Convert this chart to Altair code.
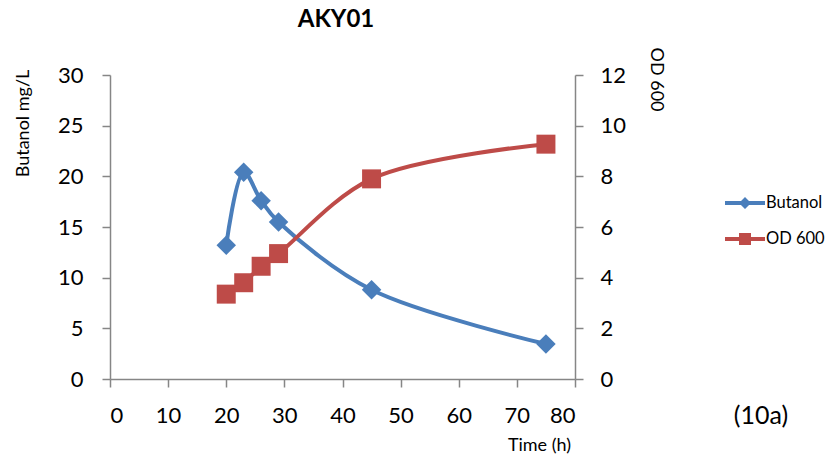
import altair as alt
import pandas as pd

# ---- data ----
time_h = [20, 23, 26, 29, 45, 75]
butanol = [13.2, 20.4, 17.6, 15.5, 8.8, 3.45]
od600 = [3.35, 3.8, 4.45, 4.95, 7.9, 9.27]
series = ["Butanol", "OD 600"]
colors = ["#4a7ebb", "#be4b48"]
x_ticks = [0, 10, 20, 30, 40, 50, 60, 70, 80]
left_ticks = [0, 5, 10, 15, 20, 25, 30]
right_ticks = [0, 2, 4, 6, 8, 10, 12]
chart_title = ["AKY01"]
panel_label = ["(10a)"]

df = pd.DataFrame({"time": time_h, "butanol": butanol, "od": od600})

FONT = "Lato"
AXIS_GRAY = "#868686"
INTERP = "catmull-rom"

x_enc = alt.X(
    "time:Q",
    scale=alt.Scale(domain=[0, 80], nice=False),
    axis=alt.Axis(
        values=x_ticks, title="Time (h)", titleX=429, titleY=71,
        titleAlign="center", titleBaseline="alphabetic",
        titleFont=FONT, titleFontSize=18, titleFontWeight="normal",
        labelPadding=18,
    ),
)

y_left = alt.Y(
    "butanol:Q",
    scale=alt.Scale(domain=[0, 30], nice=False),
    axis=alt.Axis(
        values=left_ticks, orient="left", title="Butanol mg/L",
        titleX=-82, titleY=48, titleAngle=-90, titleAlign="center",
        titleBaseline="alphabetic", titleFont=FONT, titleFontSize=18,
        titleFontWeight="normal", labelPadding=19,
    ),
)

y_right = alt.Y(
    "od:Q",
    scale=alt.Scale(domain=[0, 12], nice=False),
    axis=alt.Axis(
        values=right_ticks, orient="right", title="OD 600",
        titleX=75, titleY=4, titleAngle=90, titleAlign="center",
        titleBaseline="alphabetic", titleFont=FONT, titleFontSize=18,
        titleFontWeight="normal", labelPadding=17,
    ),
)

base = alt.Chart(df)

left = alt.layer(
    base.mark_line(strokeWidth=4, interpolate=INTERP, color=colors[0]).encode(x=x_enc, y=y_left),
    base.mark_point(filled=True, shape="diamond", size=380, opacity=1, color=colors[0]).encode(x=x_enc, y=y_left),
)

right = alt.layer(
    base.mark_line(strokeWidth=4, interpolate=INTERP, color=colors[1]).encode(x=x_enc, y=y_right),
    base.mark_point(filled=True, shape="square", size=360, opacity=1, color=colors[1]).encode(x=x_enc, y=y_right),
)

# legend symbols: line + marker
path_b = "M-1,-0.1H1V0.1H-1Z M0,-0.3L0.3,0L0,0.3L-0.3,0Z"
path_o = "M-1,-0.1H1V0.1H-1Z M-0.3,-0.3H0.3V0.3H-0.3Z"

leg_props = dict(
    orient="none", legendX=615, legendY=108, title=None,
    symbolSize=1600, symbolStrokeWidth=0, labelFont=FONT, labelFontSize=16.5,
    labelColor="black", labelOffset=1, padding=0, rowPadding=7,
)

legend_layer = (
    alt.Chart(pd.DataFrame({"series": series}))
    .mark_point(filled=True, opacity=1)
    .encode(
        color=alt.Color("series:N", scale=alt.Scale(domain=series, range=colors), legend=alt.Legend(**leg_props)),
        shape=alt.Shape("series:N", scale=alt.Scale(domain=series, range=[path_b, path_o]), legend=alt.Legend(**leg_props)),
    )
    .transform_filter("false")
)

title_layer = (
    alt.Chart(pd.DataFrame({"t": chart_title}))
    .mark_text(font=FONT, fontSize=24, fontWeight="bold", color="black", align="center", baseline="alphabetic")
    .encode(text="t:N", x=alt.value(226), y=alt.value(-48))
)

panel_layer = (
    alt.Chart(pd.DataFrame({"t": panel_label}))
    .mark_text(font=FONT, fontSize=25, color="black", align="center", baseline="alphabetic")
    .encode(text="t:N", x=alt.value(651), y=alt.value(349))
)

chart = (
    alt.layer(left, right, legend_layer, title_layer, panel_layer)
    .resolve_scale(y="independent")
    .properties(
        width=465, height=304,
        autosize=alt.AutoSizeParams(type="none"),
        padding={"left": 102, "top": 67, "right": 253, "bottom": 76},
    )
    .configure_view(stroke=None)
    .configure_axis(
        grid=False, domainColor=AXIS_GRAY, tickColor=AXIS_GRAY, domainWidth=1.5,
        tickWidth=1.5, tickSize=8, labelFont=FONT, labelFontSize=22, labelColor="black",
        titleColor="black",
    )
)

chart.save("out.html", embed_options={"renderer": "svg", "actions": False})
